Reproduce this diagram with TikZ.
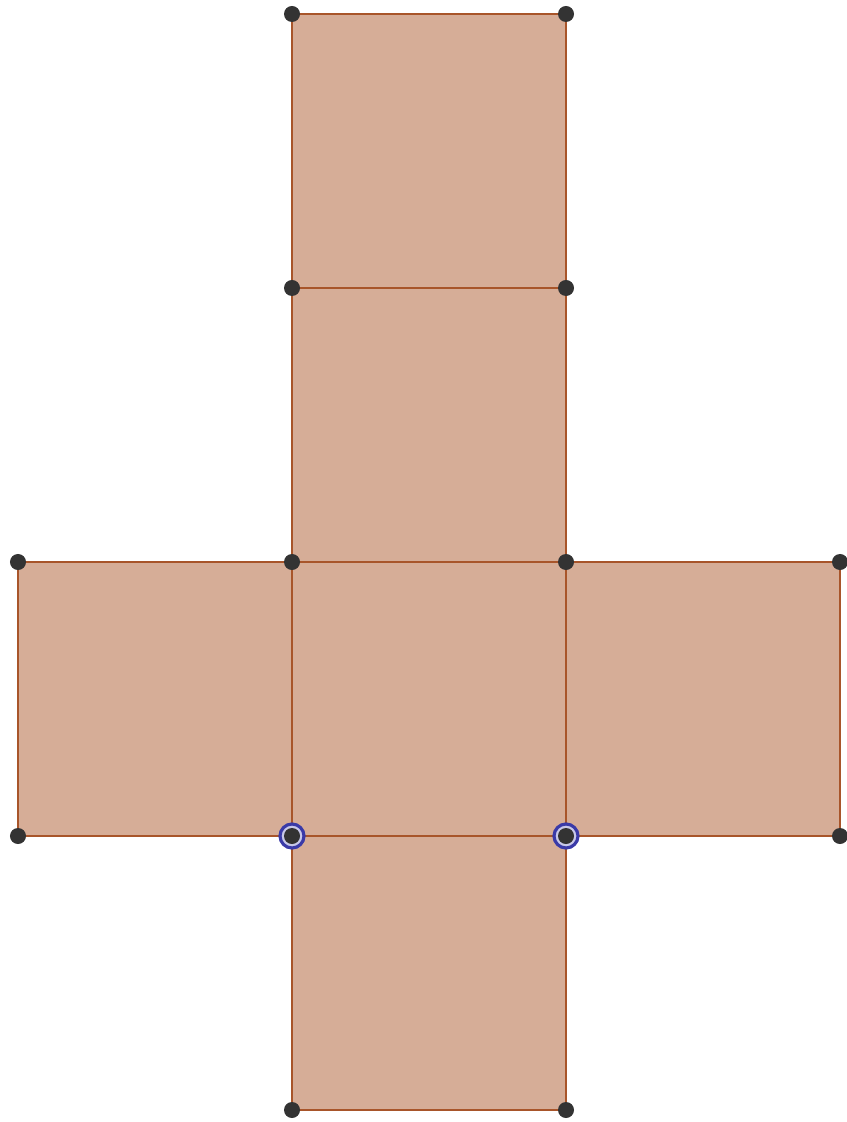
\documentclass[tikz,border=0pt]{standalone}
\definecolor{facefill}{HTML}{D6AD97}
\definecolor{faceedge}{HTML}{A8552A}
\definecolor{ptcol}{HTML}{333333}
\definecolor{ringcol}{HTML}{3A3AA8}
\definecolor{ringgap}{HTML}{C8C8E8}
\begin{document}
\begin{tikzpicture}[x=0.01cm,y=-0.01cm,
  face/.style={fill=facefill,draw=faceedge,line width=0.6pt},
  pt/.style={circle,fill=ptcol,inner sep=0pt,minimum size=0.16cm},
  ring/.style={circle,draw=ringcol,line width=0.9pt,fill=ringgap,inner sep=0pt,minimum size=0.24cm}]
\useasboundingbox (0,0) rectangle (846,1122);
% grid coordinates
\coordinate (A0) at (292,14);  \coordinate (B0) at (566,14);
\coordinate (A1) at (292,288); \coordinate (B1) at (566,288);
\coordinate (L2) at (18,562);  \coordinate (A2) at (292,562); \coordinate (B2) at (566,562); \coordinate (R2) at (840,562);
\coordinate (L3) at (18,836);  \coordinate (A3) at (292,836); \coordinate (B3) at (566,836); \coordinate (R3) at (840,836);
\coordinate (A4) at (292,1110); \coordinate (B4) at (566,1110);
% faces
\draw[face] (A0) -- (B0) -- (B1) -- (A1) -- cycle;
\draw[face] (A1) -- (B1) -- (B2) -- (A2) -- cycle;
\draw[face] (L2) -- (A2) -- (A3) -- (L3) -- cycle;
\draw[face] (B2) -- (R2) -- (R3) -- (B3) -- cycle;
\draw[face] (A3) -- (B3) -- (B4) -- (A4) -- cycle;
\draw[face] (A2) -- (B2) -- (B3) -- (A3) -- cycle;
% blue rings
\foreach \p in {A3,B3}{
  \node[ring] (ring\p) at (\p) {};
}
% points
\foreach \p in {A0,B0,A1,B1,L2,A2,B2,R2,L3,A3,B3,R3,A4,B4}{
  \node[pt] (n\p) at (\p) {};
}
\end{tikzpicture}
\end{document}
